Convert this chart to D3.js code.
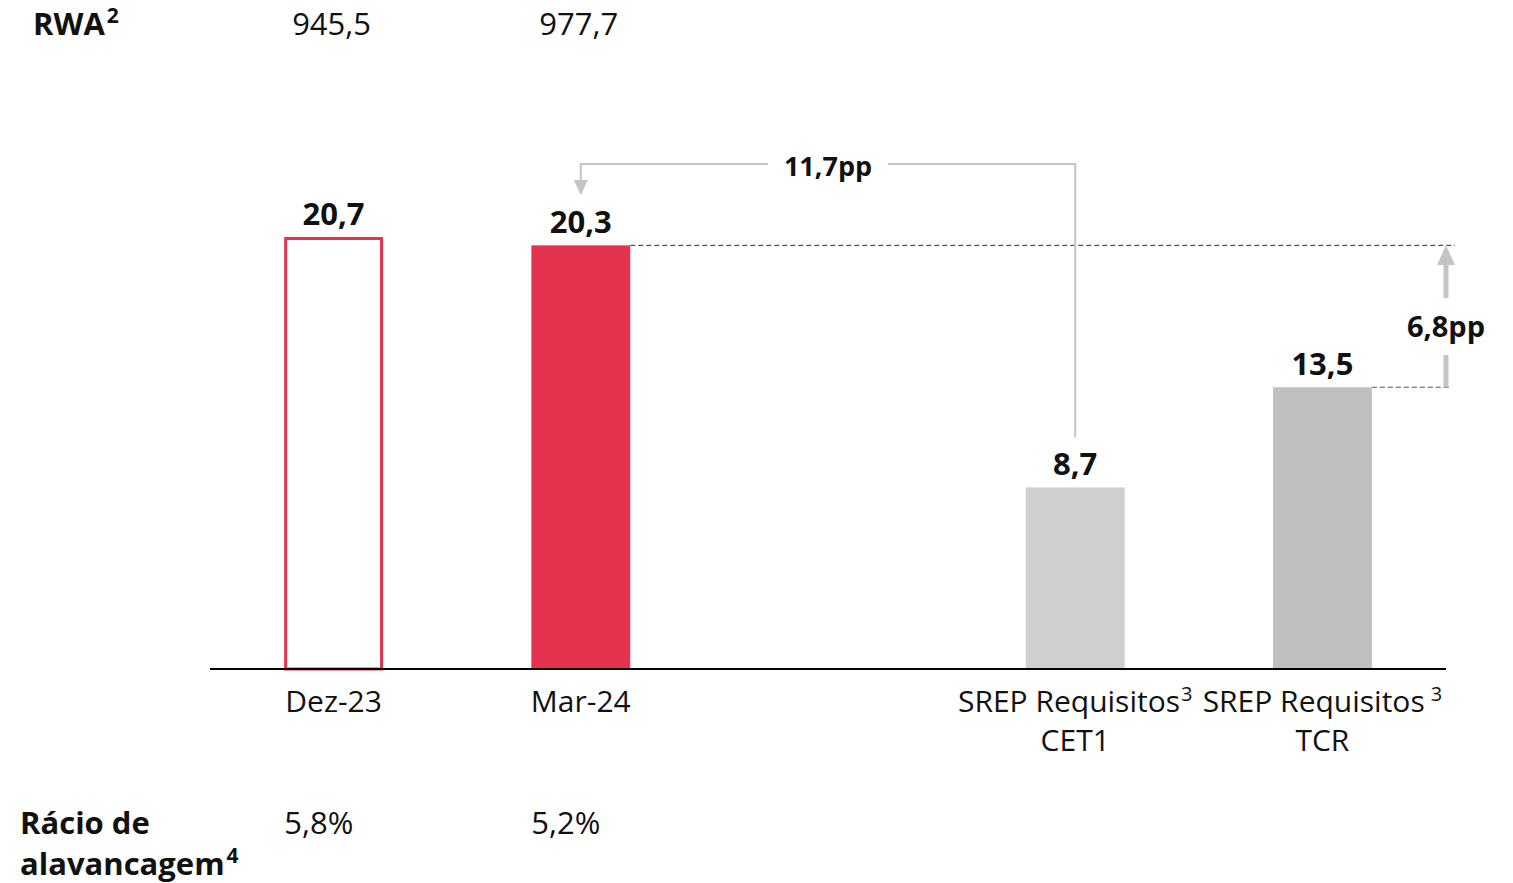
<!DOCTYPE html>
<html><head><meta charset="utf-8">
<script src="https://cdn.jsdelivr.net/npm/d3@7"></script>
<style>body{margin:0;background:#fff} text{font-family:"Open Sans",sans-serif;fill:#111}</style>
</head><body><svg id="c" width="1513" height="883"></svg>
<script>
const slots = ["Dez-23","Mar-24","gap","CET1","TCR"];
const barCats = ["Dez-23","Mar-24","CET1","TCR"];
const values = [20.7, 20.3, 8.7, 13.5];
const valueLabels = ["20,7","20,3","8,7","13,5"];
const catLine1 = ["Dez-23","Mar-24","SREP Requisitos","SREP Requisitos"];
const catSup = ["","","3","3"];
const catLine2 = ["","","CET1","TCR"];
const rwaCats = ["Dez-23","Mar-24"];
const rwaValues = ["945,5","977,7"];
const levValues = ["5,8%","5,2%"];
const diffLabels = ["11,7pp","6,8pp"];

const svg = d3.select("#c");
const x = d3.scaleBand().domain(slots).range([210,1446]).paddingInner(0.6).paddingOuter(0.3);
const y = d3.scaleLinear().domain([0,25]).range([669,669-25*20.87]);
const fills = {"Dez-23":"#fff","Mar-24":"#E5334F","CET1":"#CFCFCF","TCR":"#BFBFBF"};
const bw = x.bandwidth();
const cx = c => x(c)+bw/2;

// bars
barCats.forEach((c,i)=>{
  if(c==="Dez-23"){
    svg.append("rect").attr("x",x(c)+1.5).attr("y",y(values[i])+1.5).attr("width",bw-3).attr("height",y(0)-y(values[i])-1.5)
      .attr("fill","#fff").attr("stroke","#E5334F").attr("stroke-width",3);
  } else {
    svg.append("rect").attr("x",x(c)).attr("y",y(values[i])).attr("width",bw).attr("height",y(0)-y(values[i])).attr("fill",fills[c]);
  }
  svg.append("text").attr("x",cx(c)).attr("y",y(values[i])-12).attr("text-anchor","middle")
    .attr("font-size",31).attr("font-weight",700).text(valueLabels[i]);
});

// axis line
svg.append("line").attr("x1",210).attr("x2",1446).attr("y1",y(0)).attr("y2",y(0)).attr("stroke","#000").attr("stroke-width",2);

// category labels
barCats.forEach((c,i)=>{
  const t = svg.append("text").attr("x",cx(c)).attr("y",712).attr("text-anchor","middle").attr("font-size",30);
  t.append("tspan").text(catLine1[i]);
  if(catSup[i]) t.append("tspan").attr("font-size",20).attr("dy",-11).attr("dx", i===3?6:1).text(catSup[i]);
  if(catLine2[i]) svg.append("text").attr("x",cx(c)).attr("y",751).attr("text-anchor","middle").attr("font-size",30).text(catLine2[i]);
});

// dashed reference lines
svg.append("line").attr("x1",x("Mar-24")+bw).attr("x2",1455).attr("y1",y(values[1])).attr("y2",y(values[1]))
  .attr("stroke","#555").attr("stroke-width",1.2).attr("stroke-dasharray","5,3");
svg.append("line").attr("x1",x("TCR")+bw).attr("x2",1452).attr("y1",y(values[3])).attr("y2",y(values[3]))
  .attr("stroke","#555").attr("stroke-width",1.2).attr("stroke-dasharray","5,3");

// 11,7pp connector
const g1 = "#C4C4C4";
const topY = 164, lx = cx("Mar-24"), rx = cx("CET1"), midX = x("gap")+bw/2;
svg.append("path").attr("d",`M${rx},${y(values[2])-50} V${topY} H${midX+60}`).attr("fill","none").attr("stroke",g1).attr("stroke-width",2);
svg.append("path").attr("d",`M${midX-60},${topY} H${lx} V${182}`).attr("fill","none").attr("stroke",g1).attr("stroke-width",2);
svg.append("path").attr("d",`M${lx-7},${180} L${lx+7},${180} L${lx},${195} Z`).attr("fill",g1);
svg.append("text").attr("x",midX).attr("y",176).attr("text-anchor","middle").attr("font-size",27).attr("font-weight",700).text(diffLabels[0]);

// 6,8pp arrow
const ax = 1446;
svg.append("line").attr("x1",ax).attr("x2",ax).attr("y1",y(values[3])).attr("y2",355).attr("stroke",g1).attr("stroke-width",5);
svg.append("line").attr("x1",ax).attr("x2",ax).attr("y1",298).attr("y2",262).attr("stroke",g1).attr("stroke-width",5);
svg.append("path").attr("d",`M${ax-9},${265} L${ax+9},${265} L${ax},${y(values[1])} Z`).attr("fill",g1);
svg.append("text").attr("x",ax).attr("y",337).attr("text-anchor","middle").attr("font-size",29).attr("font-weight",700).text(diffLabels[1]);

// RWA row
const rw = svg.append("text").attr("x",33).attr("y",35).attr("font-size",31).attr("font-weight",700);
rw.append("tspan").text("RWA");
rw.append("tspan").attr("font-size",21).attr("dy",-12).attr("dx",2).text("2");
rwaCats.forEach((c,i)=>{
  svg.append("text").attr("x",cx(c)-2).attr("y",35).attr("text-anchor","middle").attr("font-size",31).text(rwaValues[i]);
});

// leverage row
svg.append("text").attr("x",20).attr("y",834).attr("font-size",31).attr("font-weight",700).text("Rácio de");
const al = svg.append("text").attr("x",20).attr("y",875).attr("font-size",31).attr("font-weight",700);
al.append("tspan").text("alavancagem");
al.append("tspan").attr("font-size",21).attr("dy",-12).attr("dx",2).text("4");
rwaCats.forEach((c,i)=>{
  svg.append("text").attr("x",x(c)).attr("y",834).attr("font-size",31).text(levValues[i]);
});
</script></body></html>
